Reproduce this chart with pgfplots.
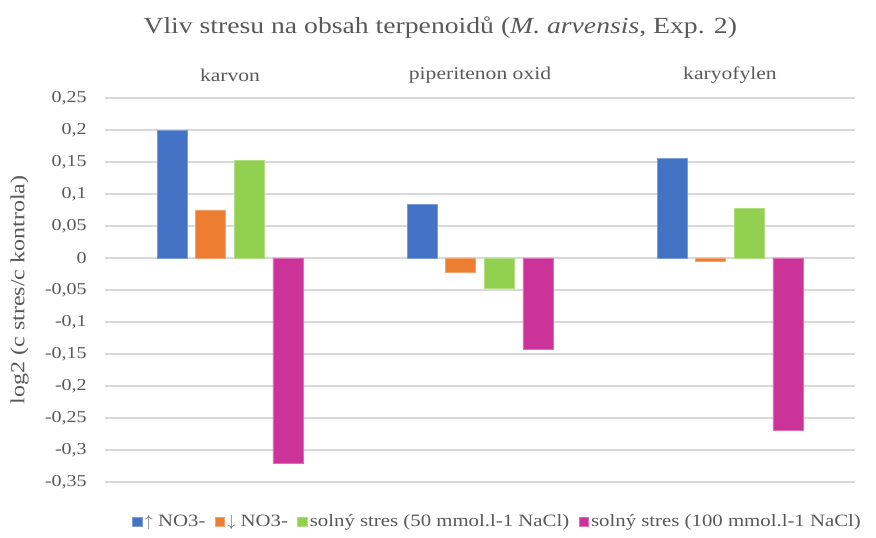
\documentclass[border=0pt]{standalone}
\usepackage{pgfplots}
\pgfplotsset{compat=1.18}
\usetikzlibrary{calc}
\usepackage{fontspec}
\setmainfont[FakeStretch=1.2]{Liberation Serif}
\definecolor{cblue}{HTML}{4472C4}
\definecolor{corange}{HTML}{ED7D31}
\definecolor{cgreen}{HTML}{92D050}
\definecolor{cmag}{HTML}{CC3399}
\definecolor{cgrid}{HTML}{D9D9D9}
\definecolor{ctext}{HTML}{595959}
\begin{document}
\begin{tikzpicture}
\begin{axis}[
    width=562.5pt, height=288pt,
    scale only axis,
    ybar=6.4pt,
    bar width=22.5pt,
    xmin=-0.5, xmax=2.5,
    ymin=-0.35, ymax=0.25,
    ytick distance=0.05,
    xtick=data,
    xticklabels={karvon,piperitenon oxid,karyofylen},
    xticklabel pos=upper,
    xticklabel style={anchor=center, yshift=17pt, font=\fontsize{13.5}{15}\selectfont},
    major tick length=0pt,
    axis line style={draw=none},
    ymajorgrids=true,
    grid style={cgrid, line width=0.9pt},
    ticklabel style={font=\fontsize{12.5}{14}\selectfont, text=ctext},
    yticklabel style={inner sep=0pt, xshift=-13.5pt},
    /pgf/number format/.cd, use comma, assume math mode=true, fixed, precision=2,
    /pgfplots/.cd,
    ylabel={log2 (c stres/c kontrola)},
    ylabel style={at={(axis description cs:-0.1138,0.5)}, anchor=center,
        font=\fontsize{15}{17}\selectfont, text=ctext},
    title={Vliv stresu na obsah terpenoidů (\textit{M. arvensis}, Exp. 2)},
    title style={at={(axis description cs:0.447,1)}, anchor=center, yshift=46.5pt,
        font=\fontsize{17.3}{20}\selectfont, text=ctext},
    legend columns=4,
    legend style={at={(0.524,-0.104)}, anchor=center, draw=none,
        font=\fontsize{13}{15}\selectfont, text=ctext, inner sep=0pt,
        /tikz/every even column/.append style={column sep=5pt}},
    legend image code/.code={\fill[#1] (0pt,-3.5pt) rectangle (7pt,3.5pt);},
]
\addplot[fill=cblue, draw=cblue!70!white] coordinates {(0,0.199) (1,0.084) (2,0.156)};
\addplot[fill=corange, draw=corange!70!white] coordinates {(0,0.075) (1,-0.023) (2,-0.005)};
\addplot[fill=cgreen, draw=cgreen!70!white] coordinates {(0,0.153) (1,-0.048) (2,0.078)};
\addplot[fill=cmag, draw=cmag!70!white] coordinates {(0,-0.320) (1,-0.142) (2,-0.269)};
\legend{$\uparrow$ NO3-, $\downarrow$ NO3-, solný stres (50 mmol.l-1 NaCl), solný stres (100 mmol.l-1 NaCl)}
\end{axis}
\pgfresetboundingbox
\path ($(current axis.south west)+(-78.75pt,-42pt)$) rectangle ($(current axis.north east)+(15.75pt,73.5pt)$);
\end{tikzpicture}
\end{document}
